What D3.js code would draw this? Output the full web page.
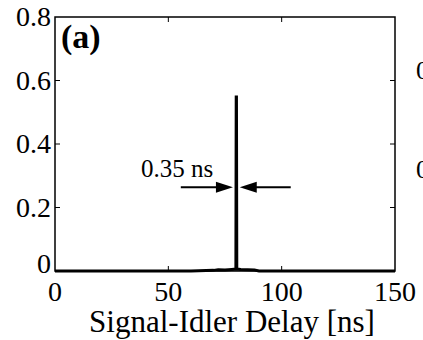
<!DOCTYPE html>
<html lang="en">
<head>
<meta charset="UTF-8">
<title>Signal-Idler Delay</title>
<script src="https://d3js.org/d3.v7.min.js"></script>
<style>
  body { margin: 0; background: #fff; overflow: hidden; }
  svg text { font-family: 'Liberation Serif', 'Times New Roman', serif; fill: #000; }
</style>
</head>
<body>
<script>
// coincidence histogram
const delays = [0, 60, 70, 72, 75, 78, 79.8, 79.95, 80.05, 80.2, 82, 85, 88, 90, 100, 150];
const counts = [0, 0, 0.002, 0.004, 0.003, 0.005, 0.006, 0.548, 0.548, 0.006, 0.005, 0.004, 0.003, 0, 0, 0];
const xTicks = [0, 50, 100, 150];
const yTicks = [0, 0.2, 0.4, 0.6, 0.8];
const fwhmLabel = "0.35 ns";
const panelLabel = "(a)";
const xLabel = "Signal-Idler Delay [ns]";
const nextPanelTicks = ["0.6", "0.4"];

const width = 423, height = 340;
const margin = { left: 55, top: 17, right: 28, bottom: 69 };

const svg = d3.select('body').append('svg')
    .attr('width', width)
    .attr('height', height);

const x = d3.scaleLinear().domain([0, 150]).range([margin.left, width - margin.right]);
const y = d3.scaleLinear().domain([0, 0.8]).range([height - margin.bottom, margin.top]);

// trace
const line = d3.line().x((d, i) => x(delays[i])).y(d => y(d));
svg.append('path')
    .datum(counts)
    .attr('d', line)
    .attr('fill', 'none')
    .attr('stroke', '#000')
    .attr('stroke-width', 3);

// box
svg.append('rect')
    .attr('x', x(0)).attr('y', y(0.8))
    .attr('width', x(150) - x(0)).attr('height', y(0) - y(0.8))
    .attr('fill', 'none').attr('stroke', '#000').attr('stroke-width', 1.5);

// inward ticks on all four sides
const tl = 5;
xTicks.slice(1, -1).forEach(t => {
    svg.append('line').attr('x1', x(t)).attr('x2', x(t)).attr('y1', y(0)).attr('y2', y(0) - tl).attr('stroke', '#000');
    svg.append('line').attr('x1', x(t)).attr('x2', x(t)).attr('y1', y(0.8)).attr('y2', y(0.8) + tl).attr('stroke', '#000');
});
yTicks.slice(1, -1).forEach(t => {
    svg.append('line').attr('x1', x(0)).attr('x2', x(0) + tl).attr('y1', y(t)).attr('y2', y(t)).attr('stroke', '#000');
    svg.append('line').attr('x1', x(150)).attr('x2', x(150) - tl).attr('y1', y(t)).attr('y2', y(t)).attr('stroke', '#000');
});

// tick labels
svg.selectAll('.xt').data(xTicks).enter().append('text')
    .attr('x', d => x(d)).attr('y', y(0) + 30)
    .attr('text-anchor', 'middle').style('font-size', '28px')
    .text(d => d);
svg.selectAll('.yt').data(yTicks).enter().append('text')
    .attr('x', x(0) - 4).attr('y', d => y(d) + (d === 0 ? 2 : 9))
    .attr('text-anchor', 'end').style('font-size', '28px')
    .text(d => d === 0 ? '0' : d.toFixed(1));

svg.append('text')
    .attr('x', (x(0) + x(150)) / 2 + 7).attr('y', 332)
    .attr('text-anchor', 'middle').style('font-size', '31px')
    .text(xLabel);

svg.append('text')
    .attr('x', 61).attr('y', 48)
    .style('font-size', '34px').style('font-weight', 'bold')
    .text(panelLabel);

// FWHM arrows
function arrow(x1, x2, yy) {
    const dir = Math.sign(x2 - x1);
    svg.append('line').attr('x1', x1).attr('x2', x2 - dir * 12).attr('y1', yy).attr('y2', yy)
        .attr('stroke', '#000').attr('stroke-width', 2);
    svg.append('path')
        .attr('d', `M${x2},${yy} L${x2 - dir * 17},${yy - 5.5} L${x2 - dir * 17},${yy + 5.5} Z`)
        .attr('fill', '#000');
}
arrow(x(55.5), x(78.5), y(0.264));
arrow(x(104), x(81.5), y(0.264));
svg.append('text')
    .attr('x', 141).attr('y', 177)
    .style('font-size', '25px')
    .text(fwhmLabel);

// edge of the neighbouring panel's tick labels
nextPanelTicks.forEach((t, i) => {
    svg.append('text')
        .attr('x', 416).attr('y', i === 0 ? 79 : 178)
        .style('font-size', '26px')
        .text(t);
});
</script>
</body>
</html>
